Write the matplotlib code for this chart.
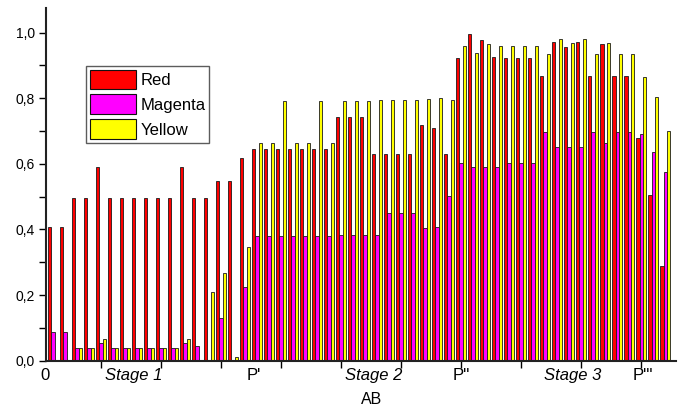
import matplotlib
matplotlib.use("Agg")
import matplotlib.pyplot as plt
import numpy as np
from matplotlib.ticker import MultipleLocator, FuncFormatter
from matplotlib.transforms import blended_transform_factory

plt.rcParams['font.family'] = ['Liberation Sans', 'DejaVu Sans']

groups = list(range(1, 53))
red = [0.407, 0.407, 0.497, 0.497, 0.591, 0.497, 0.497, 0.497, 0.497, 0.497,
       0.497, 0.590, 0.497, 0.497, 0.549, 0.549, 0.619, 0.645, 0.645, 0.645,
       0.645, 0.645, 0.645, 0.645, 0.744, 0.744, 0.744, 0.630, 0.630, 0.630,
       0.630, 0.717, 0.708, 0.630, 0.924, 0.995, 0.976, 0.927, 0.924, 0.924,
       0.924, 0.869, 0.971, 0.955, 0.971, 0.869, 0.965, 0.869, 0.869, 0.678,
       0.505, 0.290]
magenta = [0.088, 0.088, 0.038, 0.038, 0.053, 0.038, 0.038, 0.038, 0.038, 0.038,
           0.038, 0.054, 0.045, 0.0, 0.129, 0.0, 0.226, 0.381, 0.381, 0.381,
           0.381, 0.381, 0.381, 0.381, 0.384, 0.384, 0.383, 0.383, 0.449, 0.449,
           0.449, 0.404, 0.409, 0.502, 0.604, 0.589, 0.589, 0.590, 0.604, 0.604,
           0.604, 0.696, 0.651, 0.651, 0.651, 0.696, 0.665, 0.696, 0.696, 0.692,
           0.635, 0.574]
yellow = [0.0, 0.0, 0.038, 0.038, 0.065, 0.038, 0.038, 0.038, 0.038, 0.038,
          0.038, 0.066, 0.0, 0.208, 0.266, 0.012, 0.348, 0.665, 0.665, 0.793,
          0.665, 0.665, 0.793, 0.665, 0.793, 0.793, 0.793, 0.794, 0.794, 0.794,
          0.794, 0.797, 0.800, 0.794, 0.960, 0.937, 0.964, 0.960, 0.960, 0.960,
          0.960, 0.936, 0.979, 0.967, 0.979, 0.936, 0.967, 0.936, 0.936, 0.866,
          0.805, 0.701]
series_names = ['Red', 'Magenta', 'Yellow']
series_colors = ['#FF0000', '#FF00FF', '#FFFF00']

axis_labels = ['0', 'Stage 1', "P'", 'Stage 2', "P''", 'Stage 3', "P'''"]
axis_label_pos = [0.33, 7.75, 17.7, 27.7, 35.0, 44.3, 50.1]
axis_label_italic = [False, True, False, True, False, True, False]
x_ticks = [5, 10, 15, 20, 25, 30, 35, 40, 45, 50]
y_ticks = [0.0, 0.2, 0.4, 0.6, 0.8, 1.0]

W, H = 686, 412
fig = plt.figure(figsize=(W / 100, H / 100), dpi=100)
ax = fig.add_axes([46 / W, 1 - 360.7 / H, 630 / W, (360.7 - 8) / H])

x = np.array(groups, dtype=float)
bw = 0.278
for k, (vals, name, col) in enumerate(zip([red, magenta, yellow], series_names, series_colors)):
    ax.bar(x + (k - 1) * bw, vals, width=bw, color=col, edgecolor='#1a1a1a',
           linewidth=0.6, label=name, zorder=2)

ax.set_xlim(0.42, 52.9)
ax.set_ylim(0, 1.075)

for s in ['top', 'right']:
    ax.spines[s].set_visible(False)
for s in ['left', 'bottom']:
    ax.spines[s].set_linewidth(1.5)
    ax.spines[s].set_color('#222222')

ax.set_yticks(y_ticks)
ax.yaxis.set_minor_locator(MultipleLocator(0.1))
ax.yaxis.set_major_formatter(FuncFormatter(lambda v, p: f"{v:.1f}".replace('.', ',')))
ax.tick_params(axis='y', which='both', direction='out', length=5, width=1, labelsize=10, pad=3)

ax.set_xticks(x_ticks)
ax.set_xticklabels([''] * len(x_ticks))
ax.tick_params(axis='x', which='major', direction='out', length=5, width=1)

trans = blended_transform_factory(ax.transData, ax.transAxes)
for lab, pos, it in zip(axis_labels, axis_label_pos, axis_label_italic):
    ax.text(pos, -0.02, lab, transform=trans, ha='center', va='top',
            fontsize=12, style='italic' if it else 'normal')

ax.text(0.517, -0.09, 'AB', transform=ax.transAxes, ha='center', va='top', fontsize=11.5)

leg = ax.legend(loc='upper left', bbox_to_anchor=(86 / W, 1 - 66 / H),
                bbox_transform=fig.transFigure, frameon=True, fancybox=False,
                fontsize=12, handlelength=2.75, handleheight=1.45,
                labelspacing=0.3, handletextpad=0.3, borderpad=0.22,
                borderaxespad=0)
leg.get_frame().set_edgecolor('#333333')
leg.get_frame().set_linewidth(1.0)
for p in leg.get_patches():
    p.set_edgecolor('#111111')
    p.set_linewidth(0.8)

fig.savefig('out.png', dpi=100)
